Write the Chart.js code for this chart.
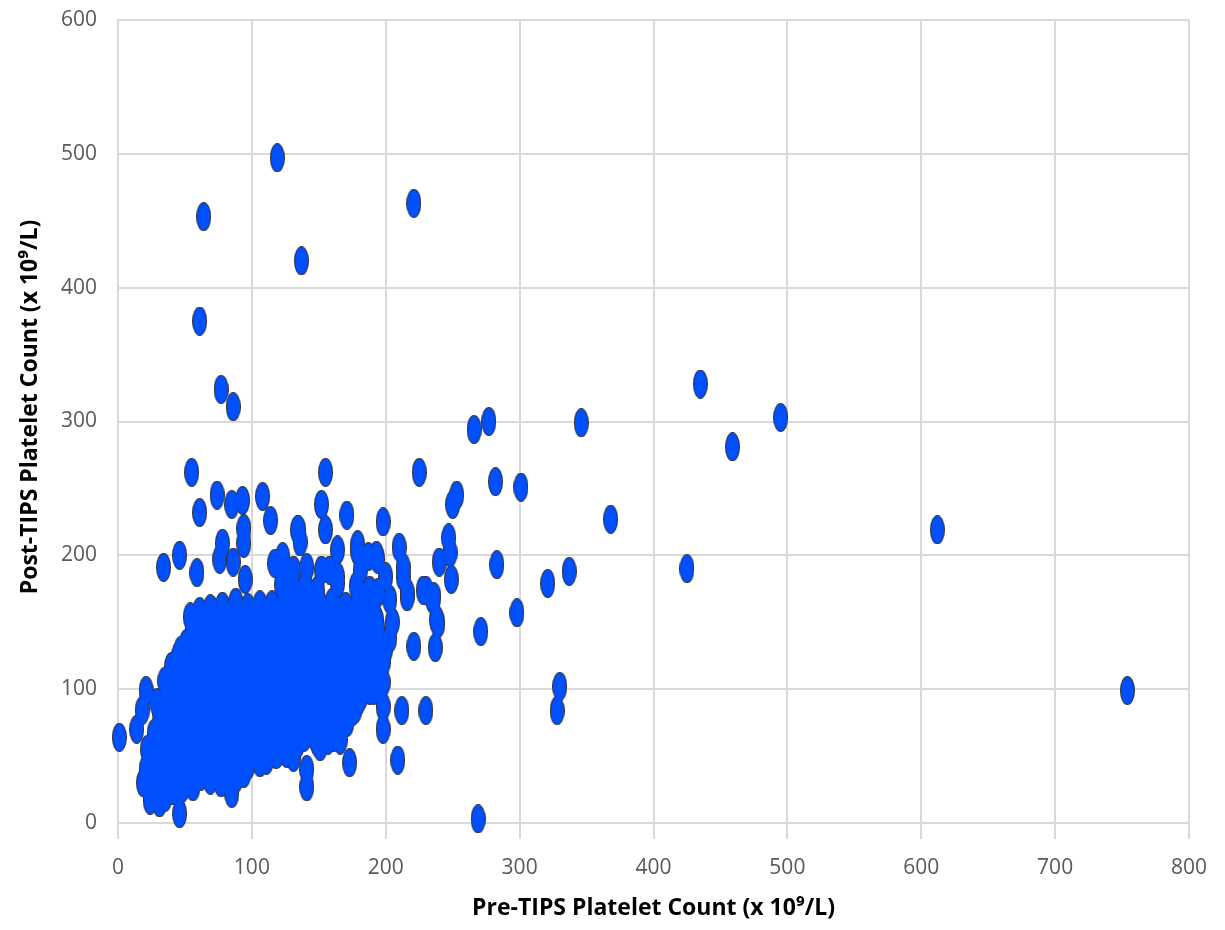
<!DOCTYPE html>
<html>
<head>
<meta charset="utf-8">
<title>Pre- vs Post-TIPS Platelet Count</title>
<script src="https://cdn.jsdelivr.net/npm/chart.js@4.4.1/dist/chart.umd.min.js"></script>
<style>
  html, body { margin: 0; padding: 0; background: #ffffff; }
  #wrap { width: 1225px; height: 930px; }
</style>
</head>
<body>
<div id="wrap"><canvas id="plateletChart" width="1225" height="930"></canvas></div>
<script>
// axis ranges
const xAxisMax = 800;
const xAxisStep = 100;
const yAxisMax = 600;
const yAxisStep = 100;

const xAxisTitle = 'Pre-TIPS Platelet Count (x 10\u2079/L)';
// leading spaces nudge the rotated label up a little, like the original
const yAxisTitle = '\u2002\u2002 Post-TIPS Platelet Count (x 10\u2079/L)';

// isolated patients, read one by one
const outlierPre  = [119, 64, 221, 137, 61, 77, 86, 435, 495, 346, 277, 266, 459, 368, 612, 754, 425, 321, 337, 298,
                     301, 282, 283, 271, 330, 328, 269, 225, 253, 250, 247, 248, 240, 249, 230, 236, 216, 210, 239, 237,
                     221, 230, 212, 198, 209, 173, 171, 166, 141, 141, 198];
const outlierPost = [497, 453, 463, 420, 375, 324, 311, 328, 303, 299, 300, 294, 281, 227, 219, 99, 190, 179, 188, 157,
                     251, 255, 193, 143, 102, 84, 3, 262, 245, 238, 213, 202, 195, 182, 174, 169, 169, 206, 149, 131,
                     132, 84, 84, 70, 47, 45, 75, 62, 40, 27, 87];

// points above the main cloud
const upperPre  = [55, 74, 61, 85, 93, 108, 114, 94, 94, 134, 46, 34, 59, 78, 76, 86, 95, 123, 123, 155,
                   152, 171, 198, 135, 155, 179, 193, 213, 181, 164, 124, 228, 238, 136, 164, 194, 117, 131, 152, 179];
const upperPost = [262, 245, 232, 238, 241, 244, 226, 220, 209, 219, 200, 191, 187, 209, 197, 195, 182, 199, 187, 262,
                   238, 230, 225, 219, 219, 208, 200, 191, 189, 204, 188, 174, 152, 210, 184, 197, 194, 189, 189, 203];

// outline of the main cloud
const edgePre  = [14, 18, 21, 29, 19, 24, 31, 46, 45, 40, 54, 1, 21, 22, 56, 69, 85, 94, 111, 106,
                  126, 119, 131, 151, 149, 161, 198, 198, 188, 181, 179, 203, 216, 213, 200, 194, 187, 235, 187, 158,
                  141, 149, 164, 205, 203, 200];
const edgePost = [70, 84, 99, 90, 30, 17, 15, 7, 124, 117, 154, 64, 40, 55, 27, 32, 22, 37, 47, 45,
                  52, 52, 49, 57, 60, 64, 120, 105, 99, 94, 90, 167, 172, 184, 184, 172, 159, 167, 199, 189,
                  191, 174, 179, 150, 138, 130];

// inside of the main cloud (heavily overlapping), roughly one line per band of post count
const densePre = [
    27, 35, 41,
    23, 31, 39, 48,
    28, 37, 45, 53, 62, 77, 88,
    24, 33, 41, 49, 58, 66, 74, 83, 91,
    30, 38, 47, 55, 63, 72, 80, 89, 97,
    26, 34, 43, 51, 59, 68, 76, 85, 93, 102, 110, 118,
    33, 41, 50, 58, 67, 75, 84, 92, 100, 109, 117, 126, 134,
    29, 37, 46, 54, 63, 71, 80, 88, 96, 105, 113, 122, 130, 139, 148, 157,
    27, 35, 44, 52, 60, 69, 77, 86, 94, 103, 111, 120, 128, 137, 146, 154, 163,
    31, 40, 48, 57, 65, 73, 82, 90, 99, 107, 116, 124, 133, 141, 150, 159, 168,
    31, 38, 47, 55, 64, 72, 81, 89, 98, 106, 115, 123, 132, 140, 149, 157, 166, 175,
    34, 43, 51, 60, 68, 77, 85, 94, 102, 111, 119, 128, 136, 145, 153, 162, 170, 177,
    41, 49, 58, 66, 75, 83, 92, 100, 109, 117, 126, 134, 143, 151, 160, 168,
    37, 45, 54, 62, 71, 79, 88, 96, 105, 113, 122, 130, 139, 147, 156, 164, 173, 182, 191,
    35, 43, 52, 60, 69, 77, 86, 94, 103, 111, 120, 128, 137, 145, 154, 162, 171, 179, 189,
    42, 51, 59, 68, 76, 85, 93, 102, 110, 119, 127, 136, 144, 153, 161, 170, 178, 187, 195,
    48, 57, 65, 74, 82, 91, 99, 108, 116, 125, 133, 142, 150, 159, 167, 176, 184, 192,
    45, 52, 61, 69, 78, 86, 95, 103, 112, 120, 129, 137, 146, 154, 163, 171, 180, 188, 196,
    47, 55, 64, 72, 81, 89, 98, 106, 115, 123, 132, 140, 149, 157, 166, 174, 183, 191,
    51, 59, 68, 76, 85, 93, 102, 110, 119, 127, 136, 144, 153, 161, 170, 178, 187, 195,
    58, 62, 71, 79, 88, 96, 105, 113, 122, 130, 139, 147, 156, 164, 173, 181, 190,
    56, 67, 75, 84, 92, 101, 109, 118, 126, 135, 143, 152, 160, 169, 177, 186, 194,
    57, 66, 74, 83, 91, 100, 108, 117, 125, 134, 142, 151, 159, 168, 176, 185, 193,
    61, 70, 79, 87, 96, 104, 113, 121, 130, 138, 147, 155, 164, 172, 181, 189,
    69, 78, 88, 97, 106, 115, 124, 133, 142, 151, 160, 170, 180, 190,
    127, 136, 145, 183, 193,
    122, 131, 140, 178, 188
];
const densePost = [
    21, 19, 24,
    26, 25, 27, 26,
    33, 30, 34, 31, 35, 30, 33,
    38, 37, 39, 36, 38, 40, 37, 39, 38,
    45, 42, 46, 43, 47, 42, 45, 48, 43,
    50, 51, 49, 52, 50, 48, 51, 50, 49, 52, 50, 51,
    57, 54, 58, 55, 57, 53, 58, 54, 58, 55, 60, 57, 59,
    62, 63, 61, 64, 62, 60, 63, 62, 61, 64, 62, 63, 61, 64, 63, 62,
    67, 70, 66, 69, 71, 66, 70, 67, 72, 68, 66, 71, 67, 70, 66, 71, 68,
    74, 75, 73, 76, 74, 72, 75, 74, 73, 76, 74, 73, 75, 74, 72, 76, 74,
    82, 79, 81, 78, 83, 80, 77, 82, 79, 83, 78, 81, 79, 84, 78, 82, 80, 83,
    86, 87, 85, 88, 86, 84, 87, 86, 85, 88, 86, 85, 87, 86, 84, 88, 86, 85,
    93, 90, 94, 91, 89, 95, 92, 90, 94, 91, 93, 89, 94, 91, 93, 90,
    98, 99, 97, 100, 98, 96, 99, 98, 97, 100, 98, 97, 99, 98, 96, 100, 98, 97, 99,
    106, 103, 105, 102, 107, 104, 101, 106, 103, 105, 102, 107, 104, 101, 106, 103, 105, 102, 107,
    110, 111, 109, 112, 110, 108, 111, 110, 109, 112, 110, 109, 111, 110, 108, 112, 110, 109, 111,
    117, 114, 118, 115, 113, 119, 116, 114, 118, 115, 117, 113, 119, 116, 114, 118, 115, 113,
    122, 123, 121, 124, 122, 120, 123, 122, 121, 124, 122, 121, 123, 122, 120, 124, 122, 121, 123,
    129, 126, 131, 127, 125, 130, 128, 126, 131, 127, 129, 125, 130, 128, 126, 131, 127, 129,
    134, 135, 133, 136, 134, 132, 135, 134, 133, 136, 134, 133, 135, 134, 132, 136, 134, 133,
    141, 138, 143, 139, 137, 142, 140, 138, 143, 139, 141, 137, 142, 140, 138, 143, 139,
    146, 147, 145, 148, 146, 144, 147, 146, 145, 148, 146, 145, 147, 146, 144, 148, 146,
    151, 154, 150, 153, 149, 155, 151, 153, 149, 154, 152, 150, 155, 151, 153, 149, 152,
    158, 159, 157, 160, 158, 156, 159, 158, 157, 160, 158, 157, 159, 158, 156, 160,
    160, 162, 165, 161, 163, 163, 165, 161, 166, 163, 165, 162, 166, 163,
    169, 171, 170, 169, 171,
    178, 175, 177, 177, 174
];

const preTipsCount  = [...outlierPre, ...upperPre, ...edgePre, ...densePre];
const postTipsCount = [...outlierPost, ...upperPost, ...edgePost, ...densePost];

const points = preTipsCount.map((x, i) => ({ x: x, y: postTipsCount[i] }));

// Excel style oval marker, drawn on its own little canvas
function ovalMarker(w, h, color) {
    const c = document.createElement('canvas');
    c.width = w;
    c.height = h;
    const g = c.getContext('2d');
    g.beginPath();
    g.ellipse(w / 2, h / 2, w / 2, h / 2, 0, 0, Math.PI * 2);
    g.fillStyle = color;
    g.fill();
    return c;
}

const outlineMarker = ovalMarker(15, 29, '#2a2f3a');
const fillMarker = ovalMarker(13, 27, '#0050ff');

const gridColor = '#d9d9d9';

new Chart(document.getElementById('plateletChart'), {
    type: 'scatter',
    data: {
        datasets: [
            {
                // blue fill on top
                data: points,
                pointStyle: fillMarker,
                order: 0,
                clip: false
            },
            {
                // dark rim drawn first, so the cloud only keeps an outer border
                data: points,
                pointStyle: outlineMarker,
                order: 1,
                clip: false
            }
        ]
    },
    options: {
        responsive: false,
        devicePixelRatio: 1,
        animation: false,
        events: [],
        layout: { padding: { left: 0, right: 36, top: 0, bottom: 0 } },
        plugins: {
            legend: { display: false },
            tooltip: { enabled: false }
        },
        scales: {
            x: {
                type: 'linear',
                min: 0,
                max: xAxisMax,
                ticks: {
                    stepSize: xAxisStep,
                    color: '#595959',
                    padding: 16,
                    maxRotation: 0,
                    font: { family: 'Open Sans', size: 21 }
                },
                grid: { color: gridColor, lineWidth: 2, drawTicks: true, tickLength: 16, tickColor: gridColor },
                border: { display: true, color: gridColor, width: 2 },
                title: {
                    display: true,
                    text: xAxisTitle,
                    color: '#000000',
                    font: { family: 'Open Sans', size: 23, weight: 'bold' },
                    padding: { top: 0, bottom: 8 }
                },
                afterFit(scale) { scale.height = 107; }
            },
            y: {
                type: 'linear',
                min: 0,
                max: yAxisMax,
                ticks: {
                    stepSize: yAxisStep,
                    color: '#595959',
                    padding: 21,
                    font: { family: 'Open Sans', size: 21 }
                },
                grid: { color: gridColor, lineWidth: 2, drawTicks: false },
                border: { display: true, color: gridColor, width: 2 },
                title: {
                    display: true,
                    text: yAxisTitle,
                    color: '#000000',
                    font: { family: 'Open Sans', size: 23, weight: 'bold' },
                    padding: { top: 17, bottom: 0 }
                },
                afterFit(scale) {
                    scale.width = 118;
                    // tick padding would otherwise push the plot top down
                    scale.paddingTop = 20;
                }
            }
        }
    }
});
</script>
</body>
</html>
